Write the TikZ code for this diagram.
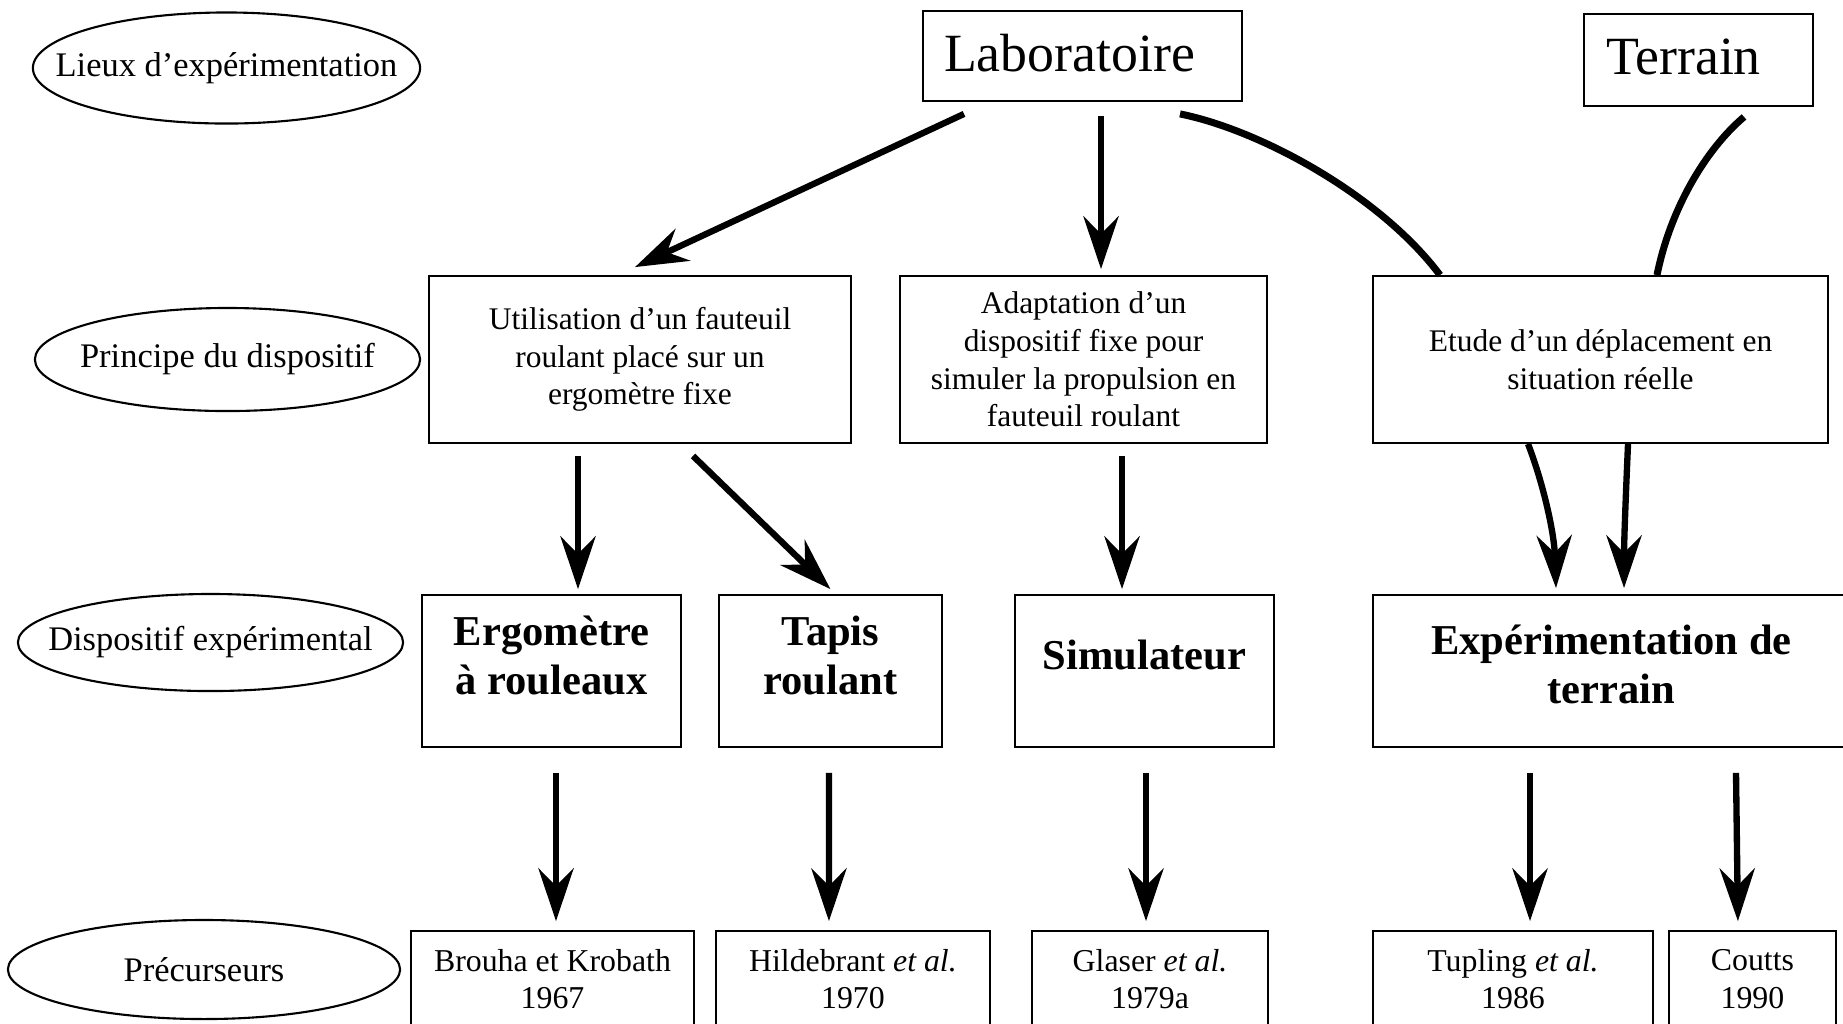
\documentclass[tikz,border=0pt]{standalone}
\usepackage{fontspec}
\setmainfont{Liberation Serif}
\usepackage{tikz}
\usetikzlibrary{arrows.meta}
\usetikzlibrary{shapes,positioning}
\newcommand{\etiq}[1]{\makebox[0pt]{#1}}

\begin{document}
\begin{tikzpicture}[x=0.01cm,y=-0.01cm,>={Stealth[length=15pt,width=10pt,inset=5pt]}]
\tikzstyle{cat}=[ellipse,draw,line width=0.6pt,inner sep=0pt,font={\fontsize{9.8}{10.7}\selectfont}]
\tikzstyle{lieu}=[rectangle,draw,line width=0.5pt,inner sep=0pt,font={\fontsize{15.3}{17}\selectfont}]
\tikzstyle{princ}=[rectangle,draw,line width=0.5pt,inner sep=0pt,minimum height=1.67cm,align=center,font={\fontsize{8.95}{10.7}\selectfont}]
\tikzstyle{disp}=[rectangle,draw,line width=0.5pt,inner sep=0pt,minimum height=1.52cm,align=center,text depth=9pt,font={\fontsize{12.1}{13.9}\selectfont\bfseries}]
\tikzstyle{prec}=[rectangle,draw,line width=0.5pt,inner sep=0pt,minimum height=0.96cm,align=center,font={\fontsize{9.05}{10.7}\selectfont}]
\tikzstyle{fl}=[line width=1.8pt]
\useasboundingbox (0,0) rectangle (1843,1023);
% colonne de gauche
\node[cat,minimum width=3.87cm,minimum height=1.11cm] (lieux) at (226.5,68) {\etiq{Lieux d’expérimentation}};
\node[cat,minimum width=3.85cm,minimum height=1.03cm] (principe) at (227.5,359.5) {\etiq{Principe du dispositif}};
\node[cat,minimum width=3.85cm,minimum height=0.97cm] (dispo) at (210.5,642.5) {\etiq{Dispositif expérimental}};
\node[cat,minimum width=3.92cm,minimum height=0.99cm] (precur) at (204,969.5) {\etiq{Précurseurs}};
% lieux
\node[lieu,minimum width=3.19cm,minimum height=0.90cm,text depth=2pt] (labo) at (1082.5,56) {Laboratoire\hspace*{0.26cm}};
\node[lieu,minimum width=2.29cm,minimum height=0.92cm,text depth=2pt] (terrain) at (1698.5,60) {Terrain\hspace*{0.30cm}};
% principes
\node[princ,minimum width=4.22cm] (util) at (640,359.5) {Utilisation d’un fauteuil\\roulant placé sur un\\ergomètre fixe};
\node[princ,minimum width=3.67cm] (adapt) at (1083.5,359.5) {Adaptation d’un\\dispositif fixe pour\\simuler la propulsion en\\fauteuil roulant};
\node[princ,minimum width=4.55cm] (etude) at (1600.5,359.5) {Etude d’un déplacement en\\situation réelle};
% dispositifs
\node[disp,minimum width=2.59cm] (ergo) at (551.5,671) {Ergomètre\\à rouleaux};
\node[disp,minimum width=2.23cm] (tapis) [right=0.36cm of ergo] {Tapis\\roulant};
\node[disp,minimum width=2.59cm] (simul) at (1144.5,671) {Simulateur};
\node[disp,minimum width=4.77cm,text depth=4pt] (expe) at (1611.5,671) {Expérimentation de\\terrain};
% precurseurs
\node[prec,minimum width=2.83cm] (brouha) at (552.5,979) {Brouha et Krobath\\1967};
\node[prec,minimum width=2.74cm] (hild) [right=0.2cm of brouha] {Hildebrant \textit{et al.}\\1970};
\node[prec,minimum width=2.36cm] (glaser) at (1150,979) {Glaser \textit{et al.}\\1979a};
\node[prec,minimum width=2.80cm] (tupling) at (1513,979) {Tupling \textit{et al.}\\1986};
\node[prec,minimum width=1.67cm] (coutts) [right=0.14cm of tupling] {Coutts\\1990};
% fleches
\draw[fl,->] ([shift={(-118.5,12)}]labo.south) -- ([shift={(-5,-8)}]util.north);
\draw[fl,->] ([shift={(18.5,14)}]labo.south) -- ([shift={(17.5,-6)}]adapt.north);
\draw[line width=2pt] ([shift={(97.5,12)}]labo.south) .. controls (1260,130) and (1380,195) .. ([shift={(-160.5,0)}]etude.north);
\draw[line width=2pt] ([shift={(45.5,10)}]terrain.south) .. controls (1705,150) and (1670,210) .. ([shift={(56.5,0)}]etude.north);
\draw[fl,->] ([shift={(-62,12)}]util.south) -- ([shift={(26.5,-5)}]ergo.north);
\draw[fl,->] ([shift={(53,12)}]util.south) -- ([shift={(0,-5)}]tapis.north);
\draw[fl,->] ([shift={(38.5,12)}]adapt.south) -- ([shift={(-22.5,-5)}]simul.north);
\draw[fl,->] ([shift={(-72.5,0)}]etude.south) .. controls (1542,480) and (1554,530) .. ([shift={(-55.5,-6)}]expe.north);
\draw[fl,->] ([shift={(27.5,0)}]etude.south) .. controls (1626,490) and (1624,540) .. ([shift={(12.5,-6)}]expe.north);
\draw[fl,->] ([shift={(4.5,25)}]ergo.south) -- ([shift={(3.5,-9)}]brouha.north);
\draw[fl,->] ([shift={(-1.5,25)}]tapis.south) -- ([shift={(-24,-9)}]hild.north);
\draw[fl,->] ([shift={(1.5,25)}]simul.south) -- ([shift={(-4,-9)}]glaser.north);
\draw[fl,->] ([shift={(-81.5,25)}]expe.south) -- ([shift={(17,-9)}]tupling.north);
\draw[fl,->] ([shift={(124.5,25)}]expe.south) -- ([shift={(-14.5,-9)}]coutts.north);
\end{tikzpicture}
\end{document}
